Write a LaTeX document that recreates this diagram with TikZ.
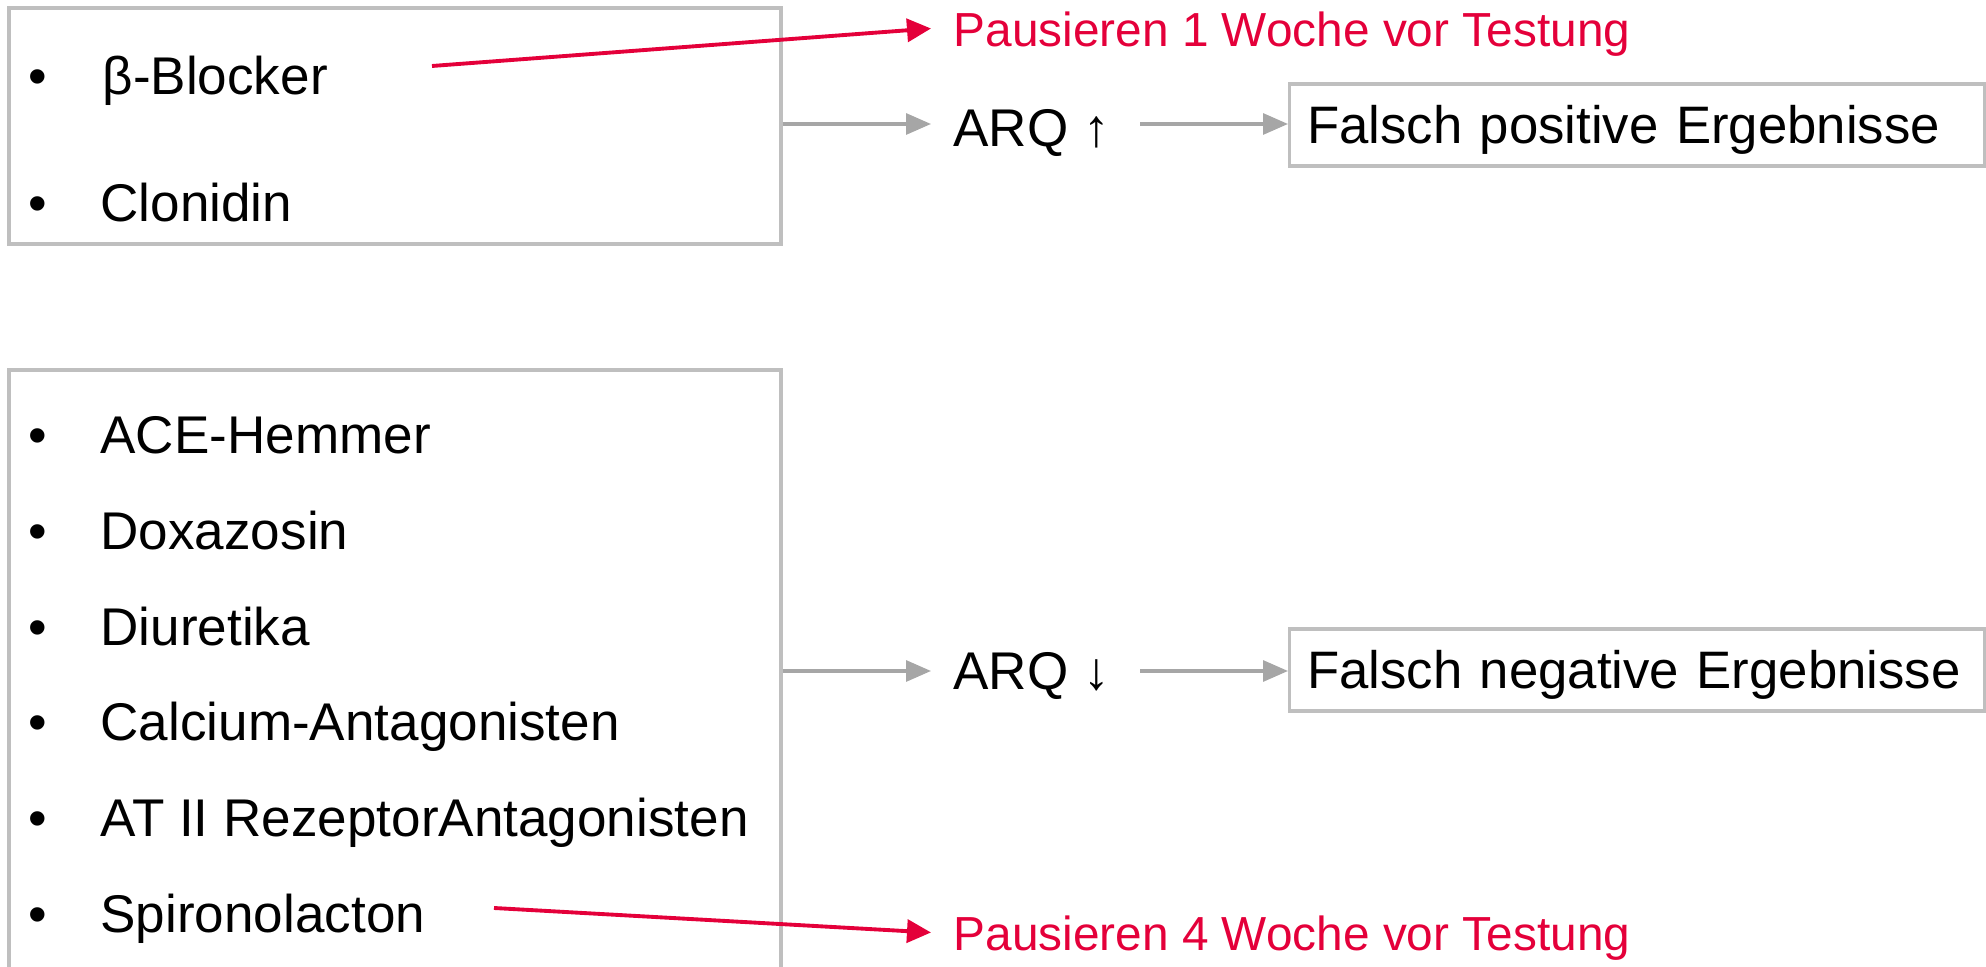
\documentclass[tikz,border=0pt]{standalone}
\usepackage{fontspec}
\setmainfont{Liberation Sans}
\usetikzlibrary{arrows.meta}
\definecolor{PauseRed}{RGB}{228,0,58}
\definecolor{BoxGray}{RGB}{191,191,191}
\definecolor{ArrowGray}{RGB}{166,166,166}

\begin{document}
\begin{tikzpicture}[x=0.1mm,y=-0.1mm,line width=0.9pt,
      every node/.append style={font=\fontsize{15.1}{18}\selectfont},
      grpbox/.style={draw=BoxGray,rectangle,inner sep=0pt,minimum width=77.2mm},
      item/.style={anchor=base west,inner sep=0pt},
      bullet/.style={anchor=base,inner sep=0pt},
      arq/.style={anchor=base west,inner xsep=2.1mm,inner ysep=0pt,text height=4.2mm,text depth=0pt},
      result/.style={draw=BoxGray,anchor=west,inner xsep=1.75mm,minimum height=8.2mm,
        text width=66mm,align=left,text height=3.8mm,text depth=0pt,
        font=\fontsize{15}{18}\selectfont},
      graylink/.style={draw=ArrowGray,-{Triangle[length=2.5mm,width=2.1mm]}},
      redlink/.style={draw=PauseRed,line width=1.1pt,-{Triangle[length=2.4mm,width=2.3mm]}}]
    \tikzstyle{pause} = [anchor=base west,inner xsep=2.1mm,inner ysep=0pt,color=PauseRed,
      text height=3.7mm,text depth=0pt,font=\fontsize{13.6}{16}\selectfont]
    \clip (0,0) rectangle (1986,967);

    \node[grpbox,minimum height=23.6mm] (top) at (395,126) {};
    \node[bullet] (tb1) at (38,95) {•};
    \node[item] (bb) at (101,95) {β-Blocker};
    \node[bullet] (tb2) at (38,222) {•};
    \node[item] (clon) at (99,222) {Clonidin};

    \node[grpbox,minimum height=63mm] (low) at (395,685) {};
    \foreach \drug [count=\i] in {ACE-Hemmer, Doxazosin, Diuretika, Calcium-Antagonisten,
        AT II RezeptorAntagonisten, Spironolacton} {
      \node[bullet] (lb\i) at (38,{453.5+95.8*(\i-1)}) {•};
      \node[item] (m\i) at (99,{453.5+95.8*(\i-1)}) {\drug};
    }

    \node[pause] (p1) at (931,47) {Pausieren 1 Woche vor Testung};
    \node[pause] (p2) at (931,951) {Pausieren 4 Woche vor Testung};
    \node[arq,text height=4.6mm] (arq1) at (931,147) {ARQ ↑};
    \node[arq,text height=3.8mm] (arq2) at (931,690) {ARQ ↓};
    \node[result] (pos) at (1288,125) {Falsch positive Ergebnisse};
    \node[result] (neg) at (1288,670) {Falsch negative Ergebnisse};

    \coordinate (bbtail) at (432,66);
    \coordinate (spirotail) at (494,908);
    \draw[redlink] (bbtail) -- (p1.west);
    \draw[redlink] (spirotail) -- (p2.west);
    \draw[graylink] (arq1.west -| top.east) -- (arq1.west);
    \draw[graylink] (arq2.west -| low.east) -- (arq2.west);
    \draw[graylink] ([xshift=0.8mm]arq1.east) -- (arq1.east -| pos.west);
    \draw[graylink] ([xshift=0.8mm]arq2.east) -- (arq2.east -| neg.west);
\end{tikzpicture}
\end{document}
